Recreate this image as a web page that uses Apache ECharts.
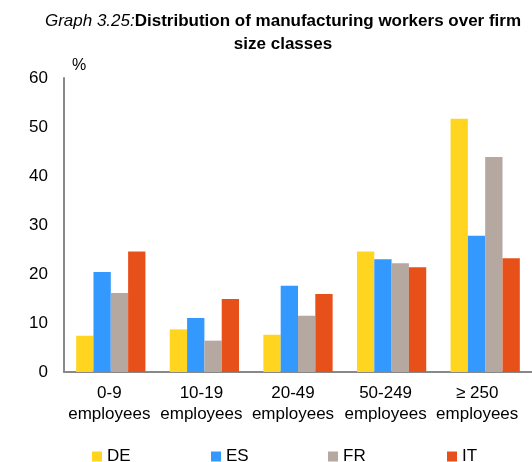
<!DOCTYPE html>
<html>
<head>
<meta charset="utf-8">
<script src="https://cdn.jsdelivr.net/npm/echarts@6/dist/echarts.min.js"></script>
<style>
html,body{margin:0;padding:0;background:#fff;}
#chart{width:532px;height:462px;}
</style>
</head>
<body>
<div id="chart"></div>
<script>
const categories = ['0-9\nemployees', '10-19\nemployees', '20-49\nemployees', '50-249\nemployees', '≥ 250\nemployees'];
const seriesNames = ['DE', 'ES', 'FR', 'IT'];
const DE = [7.4, 8.7, 7.6, 24.6, 51.7];
const ES = [20.4, 11.0, 17.6, 23.0, 27.8];
const FR = [16.1, 6.4, 11.5, 22.2, 43.9];
const IT = [24.6, 14.9, 15.9, 21.4, 23.2];
const yTicks = { min: 0, max: 60, interval: 10 };

const values = [DE, ES, FR, IT];
const colors = ['#FFD520', '#3399FF', '#B5A8A0', '#E8501A'];
const legendLefts = [92, 211, 328, 447];
const labelShift = [3, 6, 10, 12, 16];
const font = 'Arial, "Liberation Sans", sans-serif';

const richStyles = {};
labelShift.forEach((p, i) => {
  richStyles['s' + i] = { fontSize: 17, color: '#000', lineHeight: 21, fontFamily: font, padding: [0, p, 0, 0] };
});

const chart = echarts.init(document.getElementById('chart'), null, { renderer: 'canvas' });
chart.setOption({
  animation: false,
  backgroundColor: '#fff',
  textStyle: { fontFamily: font },
  title: {
    left: 278,
    top: 5,
    textAlign: 'center',
    text: '{i|Graph 3.25:}{b|Distribution of manufacturing workers over firm}\n{b|size classes}',
    textStyle: {
      fontWeight: 'normal',
      lineHeight: 23,
      rich: {
        i: { fontStyle: 'italic', fontWeight: 'normal', fontSize: 17, color: '#000', fontFamily: font, lineHeight: 23 },
        b: { fontWeight: 'bold', fontSize: 17, color: '#000', fontFamily: font, lineHeight: 23 }
      }
    }
  },
  legend: seriesNames.map((n, i) => ({
    left: legendLefts[i],
    top: 448,
    padding: 0,
    itemWidth: 10,
    itemHeight: 10,
    itemGap: 5,
    icon: 'rect',
    data: [n],
    textStyle: { fontSize: 17, color: '#000', fontFamily: font }
  })),
  grid: { left: 64, right: 0, top: 78, bottom: 90, containLabel: false, outerBoundsMode: 'none' },
  xAxis: {
    type: 'category',
    data: categories,
    axisLine: { lineStyle: { color: '#888', width: 2 } },
    axisTick: { show: false },
    axisLabel: {
      fontSize: 17, color: '#000', lineHeight: 21, margin: 11, interval: 0, fontFamily: font,
      formatter: (v, idx) => v.split('\n').map(s => '{s' + idx + '|' + s + '}').join('\n'),
      rich: richStyles
    }
  },
  yAxis: {
    type: 'value',
    min: yTicks.min,
    max: yTicks.max,
    interval: yTicks.interval,
    name: '%',
    nameLocation: 'end',
    nameGap: 4,
    nameTextStyle: { fontSize: 16, color: '#000', align: 'left', padding: [0, 0, 0, 8], fontFamily: font },
    axisLine: { show: true, lineStyle: { color: '#888', width: 2 } },
    axisTick: { show: false },
    splitLine: { show: false },
    axisLabel: { fontSize: 17, color: '#000', margin: 16, fontFamily: font }
  },
  series: seriesNames.map((n, i) => ({
    name: n,
    type: 'bar',
    data: values[i],
    itemStyle: { color: colors[i] },
    barGap: '0%',
    barCategoryGap: '26%'
  }))
});
</script>
</body>
</html>
